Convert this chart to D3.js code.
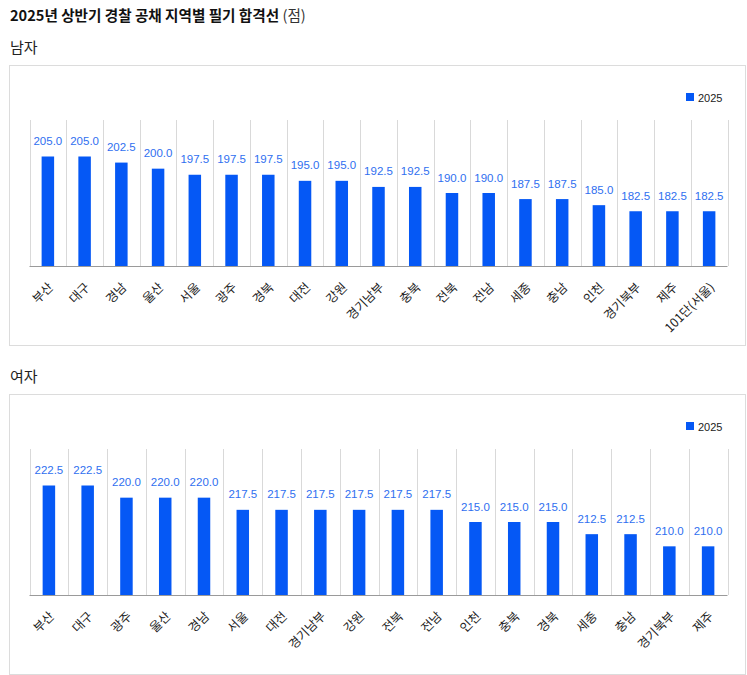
<!DOCTYPE html>
<html>
<head>
<meta charset="utf-8">
<script src="https://cdn.jsdelivr.net/npm/d3@7"></script>
<style>
  body { margin: 0; background: #fff; }
  svg text { font-family: "Liberation Sans", Arial, "Noto Sans CJK KR", sans-serif; }
  .kr { font-family: "Noto Sans CJK KR", "Noto Sans", sans-serif; }
</style>
</head>
<body>
<div id="chart"></div>
<script>
const width = 747;
const height = 675;

// 남자 regions and cut-off scores
const maleRegions = ["부산", "대구", "경남", "울산", "서울", "광주", "경북", "대전", "강원", "경기남부",
    "충북", "전북", "전남", "세종", "충남", "인천", "경기북부", "제주", "101단(서울)"];
const maleScores = [205.0, 205.0, 202.5, 200.0, 197.5, 197.5, 197.5, 195.0, 195.0, 192.5,
    192.5, 190.0, 190.0, 187.5, 187.5, 185.0, 182.5, 182.5, 182.5];

// 여자 regions and cut-off scores
const femaleRegions = ["부산", "대구", "광주", "울산", "경남", "서울", "대전", "경기남부", "강원",
    "전북", "전남", "인천", "충북", "경북", "세종", "충남", "경기북부", "제주"];
const femaleScores = [222.5, 222.5, 220.0, 220.0, 220.0, 217.5, 217.5, 217.5, 217.5,
    217.5, 217.5, 215.0, 215.0, 215.0, 212.5, 212.5, 210.0, 210.0];

const maleDomain = [160, 220];
const femaleDomain = [200, 230];
const seriesName = "2025";

const barColor = "#0558f5";
const labelColor = "#2f6ff0";

const svg = d3.select("#chart")
    .append("svg")
    .attr("width", width)
    .attr("height", height);

// Title
const title = svg.append("text")
    .attr("class", "kr")
    .attr("x", 10)
    .attr("y", 21)
    .attr("font-size", "14.6px")
    .attr("fill", "#111");
title.append("tspan").attr("font-weight", "bold").text("2025년 상반기 경찰 공채 지역별 필기 합격선 ");
title.append("tspan").attr("fill", "#333").text("(점)");

function drawPanel(label, regions, scores, domain, top) {
    // section heading
    svg.append("text")
        .attr("class", "kr")
        .attr("x", 10)
        .attr("y", top - 12)
        .attr("font-size", "15px")
        .attr("fill", "#222")
        .text(label);

    // box
    svg.append("rect")
        .attr("x", 9.5)
        .attr("y", top + 0.5)
        .attr("width", 736)
        .attr("height", 280)
        .attr("fill", "#fff")
        .attr("stroke", "#dcdcdc");

    const plotTop = top + 55;
    const plotBottom = top + 201;

    const x = d3.scaleBand()
        .domain(regions)
        .range([29.5, 727.5]);

    const y = d3.scaleLinear()
        .domain(domain)
        .range([plotBottom, plotTop]);

    const data = regions.map((r, i) => ({region: r, score: scores[i]}));

    // vertical grid lines at band edges
    const edges = regions.map(r => x(r)).concat([x.range()[1]]);
    svg.append("g")
        .selectAll("line")
        .data(edges)
        .enter().append("line")
        .attr("x1", d => Math.round(d) + 0.5)
        .attr("x2", d => Math.round(d) + 0.5)
        .attr("y1", plotTop)
        .attr("y2", plotBottom)
        .attr("stroke", "#d9d9d9");

    // bars
    const bw = 12.5;
    svg.append("g")
        .selectAll("rect")
        .data(data)
        .enter().append("rect")
        .attr("x", d => x(d.region) + x.bandwidth() / 2 - bw / 2)
        .attr("y", d => y(d.score))
        .attr("width", bw)
        .attr("height", d => plotBottom - y(d.score))
        .attr("fill", barColor);

    // value labels
    svg.append("g")
        .selectAll("text")
        .data(data)
        .enter().append("text")
        .attr("x", d => x(d.region) + x.bandwidth() / 2)
        .attr("y", d => y(d.score) - 11.5)
        .attr("text-anchor", "middle")
        .attr("font-size", "11.5px")
        .attr("fill", labelColor)
        .text(d => d.score.toFixed(1));

    // baseline / x axis
    const axis = svg.append("g")
        .attr("transform", `translate(0,${plotBottom})`)
        .call(d3.axisBottom(x).tickSize(0).tickPadding(0));
    axis.select(".domain").attr("stroke", "#9a9a9a").attr("d", `M29.5,0.5H727.5`);
    axis.selectAll(".tick text")
        .attr("class", "kr")
        .attr("font-size", "12.5px")
        .attr("fill", "#222")
        .attr("text-anchor", "end")
        .attr("dy", "0.35em")
        .attr("transform", "translate(3,19) rotate(-45)");

    // legend
    svg.append("rect")
        .attr("x", 686)
        .attr("y", top + 28)
        .attr("width", 8)
        .attr("height", 8)
        .attr("fill", barColor);
    svg.append("text")
        .attr("x", 698)
        .attr("y", top + 36.5)
        .attr("font-size", "11px")
        .attr("fill", "#222")
        .text(seriesName);
}

drawPanel("남자", maleRegions, maleScores, maleDomain, 65);
drawPanel("여자", femaleRegions, femaleScores, femaleDomain, 394);
</script>
</body>
</html>
